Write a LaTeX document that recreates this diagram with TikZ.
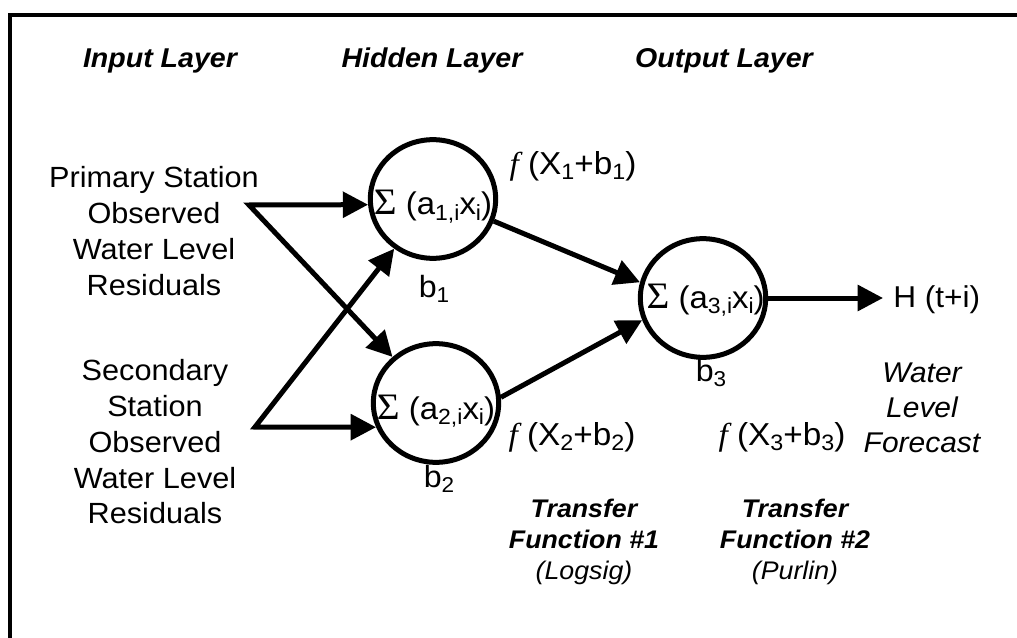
\documentclass[tikz,border=0pt]{standalone}
\usepackage{fontspec}
\usepackage{graphicx}
\setmainfont[FakeStretch=1.05]{Liberation Sans}
\newfontfamily\serfont[FakeStretch=1.05]{Liberation Serif}
\usetikzlibrary{arrows.meta,shapes.geometric}
\newcommand\myfs[2]{\fontsize{#1}{#2}\selectfont}
\newcommand\mysub[1]{\raisebox{-0.16em}{\scalebox{0.7}{#1}}}
\newcommand\myf{{\serfont\itshape f}}
\newcommand\mysig{{\serfont\fontsize{28pt}{28pt}\selectfont Σ}}
\newcommand\intext[2]{\makebox[0pt]{\raisebox{#1}[0pt][0pt]{#2}}}
\tikzset{
  mytip/.tip={Triangle[length=19pt,width=19pt]},
  wire/.style={line width=3.75pt, line join=miter},
  conn/.style={wire, -mytip},
  neuron/.style={ellipse, draw, line width=3.75pt, minimum width=94pt, minimum height=89pt, inner sep=0pt, font=\myfs{23.5pt}{27pt}},
  ttl/.style={anchor=base, font=\myfs{20.4pt}{24pt}\bfseries\itshape},
  inp/.style={align=center, font=\myfs{21.9pt}{26.8pt}},
  lbl/.style={inner sep=0pt, font=\myfs{23pt}{27pt}},
  flbl/.style={inner sep=0pt, font=\myfs{23.8pt}{27pt}},
  fcst/.style={align=center, inner sep=0pt, font=\myfs{21.4pt}{26.25pt}\itshape},
  tfn/.style={align=center, inner sep=0pt, font=\myfs{19.1pt}{23.5pt}\itshape},
  frame/.style={line width=3pt}
}
\begin{document}
\begin{tikzpicture}[x=0.75pt,y=-0.75pt]
\useasboundingbox (0,0) rectangle (1017,638);
% frame
\draw[frame] (1017,15) -- (9.5,15) -- (9.5,638);
% titles
\node[ttl] (tin) at (160,68) {Input Layer};
\node[ttl] (thid) at (432,68) {Hidden Layer};
\node[ttl] (tout) at (724,68) {Output Layer};
% inputs
\node[inp] (in1) at (154,231) {Primary Station\\Observed\\Water Level\\Residuals};
\node[inp] (in2) at (155,442) {Secondary\\Station\\Observed\\Water Level\\Residuals};
\coordinate (P1) at (249,205);
\coordinate (P2) at (255,427);
% neurons
\node[neuron] (h1) at (433,199) {\intext{-12pt}{\mysig{} (a\mysub{1,i}x\mysub{i})}};
\node[neuron] (h2) at (436,403) {\intext{-12pt}{\mysig{} (a\mysub{2,i}x\mysub{i})}};
\node[neuron] (o) at (703,298) {\hspace{4pt}\intext{-8pt}{\mysig{} (a\mysub{3,i}x\mysub{i})}};
% biases
\node[lbl] (b1) at (434,289) {b\mysub{1}};
\node[lbl] (b2) at (439,479) {b\mysub{2}};
\node[lbl] (b3) at (711,373) {b\mysub{3}};
% transfer labels
\node[flbl] (f1) at (573,166) {\myf\ (X\mysub{1}+b\mysub{1})};
\node[flbl] (f2) at (572,437) {\myf\ (X\mysub{2}+b\mysub{2})};
\node[flbl] (f3) at (782,437) {\myf\ (X\mysub{3}+b\mysub{3})};
% output
\node[lbl, anchor=west, font=\myfs{22.6pt}{27pt}] (H) at (893,300) {H (t+i)};
\node[fcst] (wlf) at (922,408) {Water\\Level\\Forecast};
\node[tfn] (tf1) at (584,542) {\textbf{Transfer}\\\textbf{Function \#1}\\(Logsig)};
\node[tfn] (tf2) at (795,542) {\textbf{Transfer}\\\textbf{Function \#2}\\(Purlin)};
% connectors
\draw[wire, mytip-mytip] (h1.185) -- (P1) -- (h2);
\draw[wire, mytip-mytip] (h1) -- (P2) -- (h2.202);
\draw[conn] (h1.-20) -- (o.166);
\draw[conn] (h2.5) -- (o.200);
\draw[conn, shorten >=7.5pt] (o.east) -- (o.east -| H.west);
\end{tikzpicture}
\end{document}
